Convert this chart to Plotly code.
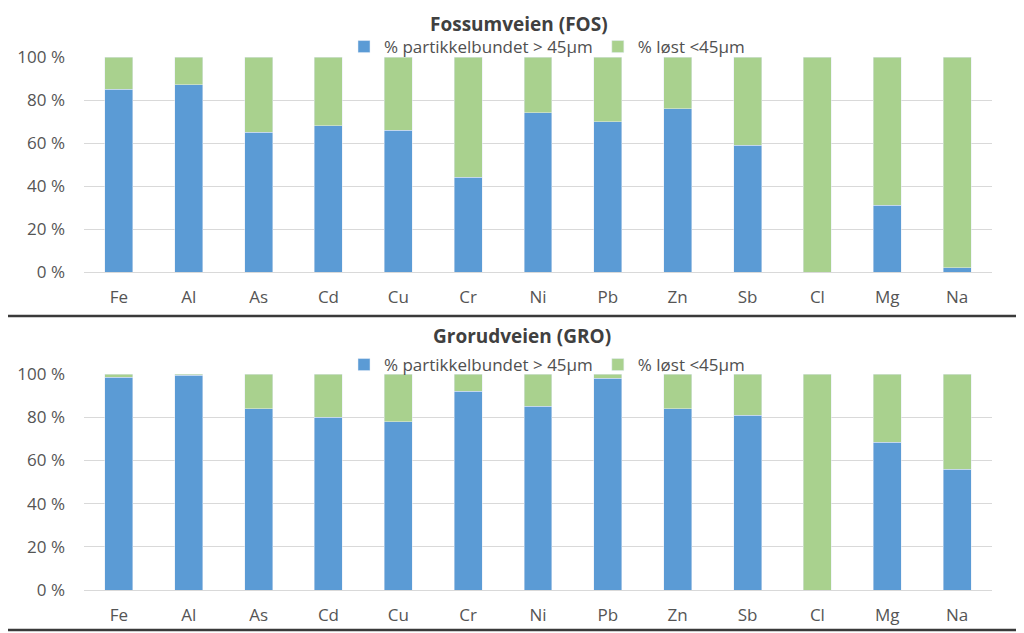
import plotly.graph_objects as go

elements = ["Fe", "Al", "As", "Cd", "Cu", "Cr", "Ni", "Pb", "Zn", "Sb", "Cl", "Mg", "Na"]
fos_bound = [85, 87, 65, 68, 66, 44, 74, 70, 76, 59, 0, 31, 2]
fos_diss = [100 - v for v in fos_bound]
gro_bound = [98.5, 99.5, 84, 80, 78, 92, 85, 98, 84, 81, 0, 68.5, 56]
gro_diss = [100 - v for v in gro_bound]

y_ticks = [0, 20, 40, 60, 80, 100]
y_ticktext = ["0 %", "20 %", "40 %", "60 %", "80 %", "100 %"]

name_bound = "% partikkelbundet > 45µm"
name_diss = "% løst <45µm"
title_top = "Fossumveien (FOS)"
title_bot = "Grorudveien (GRO)"

BLUE = "#5B9BD5"
GREEN = "#A9D18E"
FONT = "Open Sans, sans-serif"
W, H = 1016, 625
OFF = 8  # page body margin


def fx(px):
    return (px - OFF) / W


def fy(px):
    return 1 - (px - OFF) / H


fig = go.Figure()
fig.add_trace(go.Bar(x=elements, y=fos_bound, name=name_bound, marker_color=BLUE,
                     xaxis="x", yaxis="y", legend="legend"))
fig.add_trace(go.Bar(x=elements, y=fos_diss, name=name_diss, marker_color=GREEN,
                     xaxis="x", yaxis="y", legend="legend"))
fig.add_trace(go.Bar(x=elements, y=gro_bound, name=name_bound, marker_color=BLUE,
                     xaxis="x2", yaxis="y2", legend="legend2"))
fig.add_trace(go.Bar(x=elements, y=gro_diss, name=name_diss, marker_color=GREEN,
                     xaxis="x2", yaxis="y2", legend="legend2"))

xdom = [fx(84), fx(992)]
common_x = dict(domain=xdom, showgrid=False, showline=False, ticks="", automargin=False,
                tickfont=dict(family=FONT, size=17, color="#555555"),
                ticklabelstandoff=13, fixedrange=True)
common_y = dict(range=[0, 100], tickvals=y_ticks, ticktext=y_ticktext, tickmode="array",
                showgrid=True, gridcolor="#D9D9D9", gridwidth=1, zeroline=True,
                zerolinecolor="#D9D9D9", zerolinewidth=1, showline=False, ticks="",
                automargin=False,
                tickfont=dict(family=FONT, size=17, color="#555555"),
                ticklabelstandoff=18, fixedrange=True)

legend_common = dict(orientation="h", xanchor="center", yanchor="middle",
                     font=dict(family=FONT, size=17, color="#505050"),
                     bgcolor="rgba(0,0,0,0)", traceorder="normal",
                     itemwidth=30, itemclick=False)

fig.update_layout(
    width=W, height=H,
    margin=dict(l=0, r=0, t=0, b=0, pad=0, autoexpand=False),
    paper_bgcolor="white", plot_bgcolor="white",
    barmode="stack", bargap=0.6,
    xaxis=dict(common_x, anchor="y"),
    yaxis=dict(common_y, domain=[fy(272), fy(57)], anchor="x"),
    xaxis2=dict(common_x, anchor="y2"),
    yaxis2=dict(common_y, domain=[fy(590), fy(374)], anchor="x2"),
    legend=dict(legend_common, x=fx(547), y=fy(47)),
    legend2=dict(legend_common, x=fx(547), y=fy(365)),
    showlegend=True,
    annotations=[
        dict(text="<b>" + title_top + "</b>", x=fx(519), y=fy(9), xref="paper", yref="paper",
             showarrow=False, xanchor="center", yanchor="top",
             font=dict(family=FONT, size=19, color="#404040")),
        dict(text="<b>" + title_bot + "</b>", x=fx(522), y=fy(336), xref="paper", yref="paper",
             showarrow=False, xanchor="center", yanchor="middle",
             font=dict(family=FONT, size=19, color="#404040")),
    ],
    shapes=[
        dict(type="line", xref="paper", yref="paper", x0=0, x1=1, y0=fy(316), y1=fy(316),
             line=dict(color="#3A3A3A", width=2.5)),
        dict(type="line", xref="paper", yref="paper", x0=0, x1=1, y0=fy(630), y1=fy(630),
             line=dict(color="#3A3A3A", width=2.5)),
    ],
)

fig.write_html("out.html")
